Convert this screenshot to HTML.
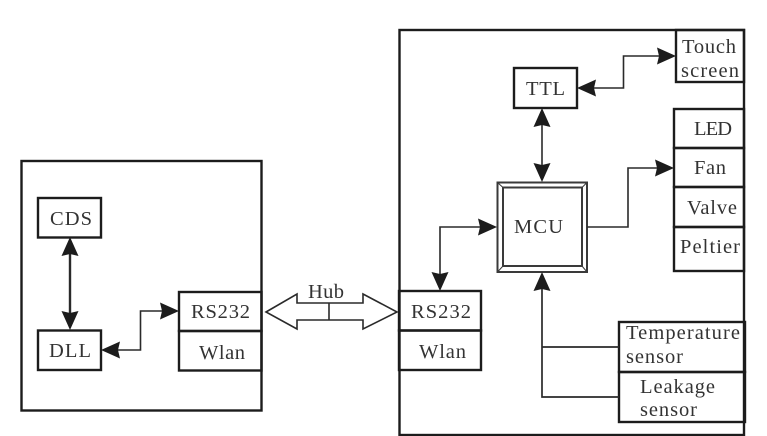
<!DOCTYPE html>
<html><head><meta charset="utf-8"><style>
html,body{margin:0;padding:0;background:#fff;width:767px;height:436px;overflow:hidden}
svg{display:block}
text{font-family:"Liberation Serif",serif;font-size:20.5px;fill:#333}
.b{fill:none;stroke:#1c1c1c;stroke-width:2.4}
.l{fill:none;stroke:#2a2a2a;stroke-width:1.6}
.h{fill:#1c1c1c;stroke:none}
</style></head><body>
<svg width="767" height="436" viewBox="0 0 767 436" xmlns="http://www.w3.org/2000/svg">
<rect width="767" height="436" fill="#fff"/>
<!-- left -->
<rect class="b" x="21.500" y="161" width="240" height="249.500"/>
<rect class="b" x="38" y="198" width="63" height="39.500"/>
<rect class="b" x="38" y="330.500" width="63" height="39.500"/>
<rect class="b" x="179" y="292" width="82.500" height="39"/>
<rect class="b" x="179" y="331" width="82.500" height="39.500"/>
<path class="l" style="stroke-width:2.4" d="M70 250V318"/>
<path class="h" d="M70 237l-8.500 19 8.500-2 8.500 2zM70 330l-8.500-19 8.500 2 8.500-2z"/>
<path class="l" d="M112 350H140.500V311H168"/>
<path class="h" d="M101 350l19-8.500-2 8.500 2 8.500zM179 311l-19-8.500 2 8.500-2 8.500z"/>
<!-- hub -->
<path d="M266 312L297 294V303H363V294L397 312L363 329V320H297V329Z" fill="#fff" stroke="#2a2a2a" stroke-width="1.600"/>
<path class="l" d="M329 303V320"/>
<!-- right -->
<rect class="b" x="399.500" y="30" width="344.500" height="405"/>
<rect class="b" x="676" y="30" width="68" height="52"/>
<rect class="b" x="514" y="68" width="63" height="40"/>
<rect class="b" x="674" y="109" width="70" height="39"/>
<rect class="b" x="674" y="148" width="70" height="39"/>
<rect class="b" x="674" y="187" width="70" height="40"/>
<rect class="b" x="674" y="227" width="70" height="44"/>
<rect class="b" x="399" y="291" width="82" height="39.500"/>
<rect class="b" x="399" y="330.500" width="82" height="39.500"/>
<rect class="b" x="619" y="322" width="126" height="50"/>
<rect class="b" x="619" y="372" width="126" height="50"/>
<!-- MCU -->
<rect x="497.500" y="182.500" width="89.500" height="89.500" fill="none" stroke="#3a3a3a" stroke-width="2"/>
<rect x="503" y="187.500" width="79" height="78.500" fill="none" stroke="#3a3a3a" stroke-width="2"/>
<path d="M497.500 182.500L503 187.500M587 182.500L582 187.500M497.500 272L503 266M587 272L582 266" stroke="#3a3a3a" stroke-width="1" fill="none"/>
<!-- connectors -->
<path class="l" d="M588 88H623.500V56H665"/>
<path class="h" d="M577 88l19-8.500-2 8.500 2 8.500zM676 56l-19-8.500 2 8.500-2 8.500z"/>
<path class="l" d="M542 120V170"/>
<path class="h" d="M542 108l-8.500 19 8.500-2 8.500 2zM542 182l-8.500-19 8.500 2 8.500-2z"/>
<path class="l" d="M587 227H628V168H663"/>
<path class="h" d="M674 168l-19-8.500 2 8.500-2 8.500z"/>
<path class="l" d="M440 280V227H486"/>
<path class="h" d="M497 227l-19-8.500 2 8.500-2 8.500zM440 291l-8.500-19 8.500 2 8.500-2z"/>
<path class="l" style="stroke-width:1.7" d="M542 283V397H619M542 347H619"/>
<path class="h" d="M542 272l-8.500 19 8.500-2 8.500 2z"/>
<!-- labels -->
<text x="50" y="225" textLength="42" lengthAdjust="spacing">CDS</text>
<text x="49" y="357" textLength="42" lengthAdjust="spacing">DLL</text>
<text x="191" y="318" textLength="59" lengthAdjust="spacing">RS232</text>
<text x="199" y="359" textLength="46" lengthAdjust="spacing">Wlan</text>
<text x="308" y="298" textLength="36" lengthAdjust="spacing">Hub</text>
<text x="682" y="53" textLength="54" lengthAdjust="spacing">Touch</text>
<text x="681" y="77" textLength="58" lengthAdjust="spacing">screen</text>
<text x="526" y="95" textLength="39" lengthAdjust="spacing">TTL</text>
<text x="694" y="135" textLength="38" lengthAdjust="spacing">LED</text>
<text x="694" y="174" textLength="32" lengthAdjust="spacing">Fan</text>
<text x="687" y="214" textLength="50" lengthAdjust="spacing">Valve</text>
<text x="680" y="253" textLength="60" lengthAdjust="spacing">Peltier</text>
<text x="514" y="233" textLength="49" lengthAdjust="spacing">MCU</text>
<text x="411" y="318" textLength="60" lengthAdjust="spacing">RS232</text>
<text x="419" y="358" textLength="47" lengthAdjust="spacing">Wlan</text>
<text x="626" y="339" textLength="114" lengthAdjust="spacing">Temperature</text>
<text x="626" y="363" textLength="57" lengthAdjust="spacing">sensor</text>
<text x="640" y="393" textLength="75" lengthAdjust="spacing">Leakage</text>
<text x="640" y="416" textLength="57" lengthAdjust="spacing">sensor</text>
</svg>
</body></html>
